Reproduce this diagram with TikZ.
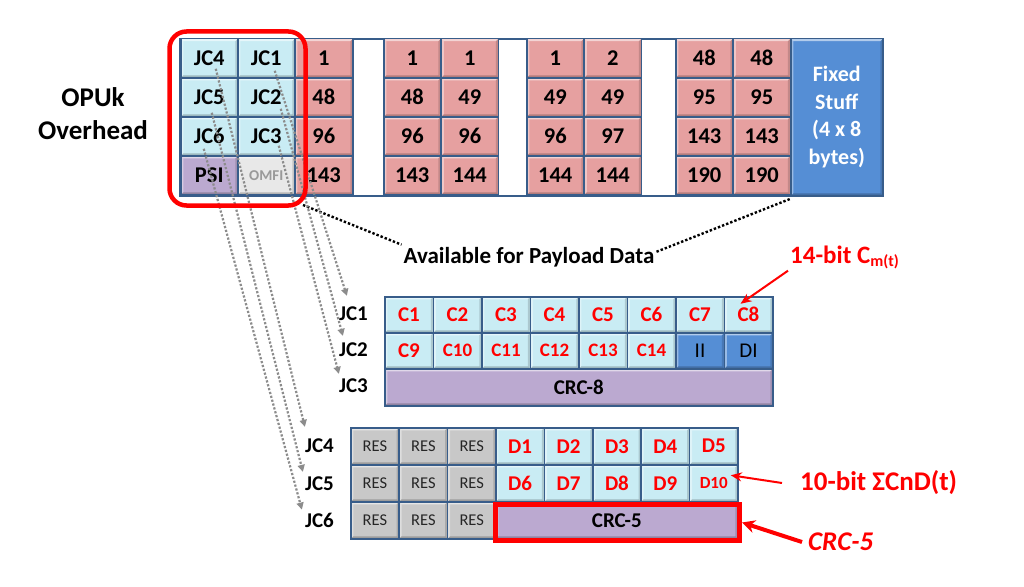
\documentclass[tikz,border=0pt]{standalone}
\usepackage{fontspec}
\setmainfont{Carlito}
\usetikzlibrary{arrows.meta,calc}
\definecolor{cy}{HTML}{C9ECF4}
\definecolor{pk}{HTML}{E6A0A0}
\definecolor{pu}{HTML}{BBA9D0}
\definecolor{bl}{HTML}{558ED5}
\definecolor{gr}{HTML}{C8C8C8}
\definecolor{om}{HTML}{E8E8E8}
\definecolor{bd}{HTML}{385D8A}
\definecolor{rd}{HTML}{FF0000}
\definecolor{dg}{HTML}{8C8C8C}
\begin{document}
\begin{tikzpicture}[x=1pt,y=-1pt,
  bevel/.style={path picture={
    \fill[white,opacity=.55] (path picture bounding box.north west) -- (path picture bounding box.north east)
      -- ([shift={(-2.5pt,-2.5pt)}]path picture bounding box.north east) -- ([shift={(2.5pt,-2.5pt)}]path picture bounding box.north west) -- cycle;
    \fill[white,opacity=.4] (path picture bounding box.north west) -- ([shift={(2.5pt,-2.5pt)}]path picture bounding box.north west)
      -- ([shift={(2.5pt,2.5pt)}]path picture bounding box.south west) -- (path picture bounding box.south west) -- cycle;
    \fill[black,opacity=.22] (path picture bounding box.south west) -- (path picture bounding box.south east)
      -- ([shift={(-2.5pt,2.5pt)}]path picture bounding box.south east) -- ([shift={(2.5pt,2.5pt)}]path picture bounding box.south west) -- cycle;
    \fill[black,opacity=.15] (path picture bounding box.north east) -- (path picture bounding box.south east)
      -- ([shift={(-2.5pt,2.5pt)}]path picture bounding box.south east) -- ([shift={(-2.5pt,-2.5pt)}]path picture bounding box.north east) -- cycle;
  }},
  cell/.style={draw=bd, line width=1.5pt, anchor=north west, inner sep=0pt, bevel,
    font=\fontsize{22.5}{26}\selectfont\bfseries},
  tcell/.style={cell, minimum width=57pt, minimum height=39pt},
  mcell/.style={cell, minimum width=48.5pt, minimum height=36pt, font=\fontsize{21}{24}\selectfont\bfseries},
  bcell/.style={cell, minimum width=48.4pt, minimum height=37pt, font=\fontsize{21}{24}\selectfont\bfseries},
  rescell/.style={bcell, fill=gr, text=black!85, font=\fontsize{16.5}{19}\selectfont},
  lbl/.style={anchor=east, inner sep=0pt, font=\fontsize{21}{24}\selectfont\bfseries},
  gar/.style={draw=dg, line width=2.2pt, dash pattern=on 2.2pt off 1.8pt, -{Triangle[length=7pt,width=7pt]}},
  kdot/.style={draw=black, line width=2.4pt, dash pattern=on 2.4pt off 2pt},
  rar/.style={draw=rd, line width=2pt, -{Stealth[length=11pt,width=9pt]}},
  ann/.style={text=rd, inner sep=2pt, font=\fontsize{25}{28}\selectfont\bfseries}
]
\useasboundingbox (0,0) rectangle (1024,586);
\fill[white] (0,0) rectangle (1024,586);

% frame of the OPUk block
\draw[bd, line width=2pt] (180,39.5) rectangle (882,195.5);

% group 1
\node[tcell, fill=cy] (t1a) at (180,38) {JC4};
\node[tcell, fill=cy] (t1b) at (237,38) {JC1};
\node[tcell, fill=pk, minimum width=58pt] (t1c) at (294,38) {1};
\node[tcell, fill=cy] (t2a) at (180,77) {JC5};
\node[tcell, fill=cy] (t2b) at (237,77) {JC2};
\node[tcell, fill=pk, minimum width=58pt] (t2c) at (294,77) {48};
\node[tcell, fill=cy] (t3a) at (180,116) {JC6};
\node[tcell, fill=cy] (t3b) at (237,116) {JC3};
\node[tcell, fill=pk, minimum width=58pt] (t3c) at (294,116) {96};
\node[tcell, fill=pu] (t4a) at (180,155) {PSI};
\node[tcell, fill=om, text=black!40, font=\fontsize{15}{17}\selectfont\bfseries] (t4b) at (237,155) {OMFI};
\node[tcell, fill=pk, minimum width=58pt] (t4c) at (294,155) {143};

% groups 2-4
\foreach \x/\g/\va/\vb/\vc/\vd/\ve/\vf/\vh/\vi in
  {383/b/1/1/48/49/96/96/143/144, 526/c/1/2/49/49/96/97/144/144, 675/d/48/48/95/95/143/143/190/190}{
  \node[tcell, fill=pk] (\g1l) at (\x,38) {\va};
  \node[tcell, fill=pk] (\g1r) at (\x+57.5,38) {\vb};
  \node[tcell, fill=pk] (\g2l) at (\x,77) {\vc};
  \node[tcell, fill=pk] (\g2r) at (\x+57.5,77) {\vd};
  \node[tcell, fill=pk] (\g3l) at (\x,116) {\ve};
  \node[tcell, fill=pk] (\g3r) at (\x+57.5,116) {\vf};
  \node[tcell, fill=pk] (\g4l) at (\x,155) {\vh};
  \node[tcell, fill=pk] (\g4r) at (\x+57.5,155) {\vi};
}
\node[cell, fill=bl, text=white, minimum width=92pt, minimum height=157pt, align=center,
  font=\fontsize{22}{27.5}\selectfont\bfseries] (fx) at (790,38) {Fixed\\Stuff\\(4 x 8\\bytes)};

\node[align=center, font=\fontsize{27}{33}\selectfont\bfseries] (opu) at (93,114) {OPUk\\Overhead};

% Available for payload data
\node[anchor=base, inner sep=2pt, font=\fontsize{23}{26}\selectfont\bfseries] (avail) at (529,263) {Available for Payload Data};
\coordinate (pl) at (303,205);
\coordinate (pr) at (790,199);
\draw[kdot] (pl) -- (avail.north west);
\draw[kdot] ([yshift=5pt]avail.east) -- (pr);

% middle grid JC1-JC3
\foreach \i in {1,...,8}{
  \node[mcell, fill=cy, text=rd] (m1\i) at ({384+(\i-1)*48.5},296) {C\i};
}
\node[mcell, fill=cy, text=rd] (m21) at (384,332) {C9};
\foreach \i/\t in {2/C10,3/C11,4/C12,5/C13,6/C14}{
  \node[mcell, fill=cy, text=rd, font=\fontsize{19}{22}\selectfont\bfseries] (m2\i) at ({384+(\i-1)*48.5},332) {\t};
}
\node[mcell, fill=bl, font=\fontsize{21}{24}\selectfont] (m27) at ({384+6*48.5},332) {II};
\node[mcell, fill=bl, font=\fontsize{21}{24}\selectfont] (m28) at ({384+7*48.5},332) {DI};
\node[mcell, fill=pu, text=black, minimum width=388pt, minimum height=37pt] (m3) at (384,368) {CRC-8};
\node[lbl] (l1) at (368,314) {JC1};
\node[lbl] (l2) at (368,350) {JC2};
\node[lbl] (l3) at (368,386) {JC3};

% bottom grid JC4-JC6
\foreach \i in {1,2,3}{
  \node[rescell] (r1\i) at ({350+(\i-1)*48.4},427) {RES};
  \node[rescell] (r2\i) at ({350+(\i-1)*48.4},464) {RES};
  \node[rescell] (r3\i) at ({350+(\i-1)*48.4},501) {RES};
}
\foreach \i/\t in {4/D1,5/D2,6/D3,7/D4,8/D5}{
  \node[bcell, fill=cy, text=rd] (r1\i) at ({350+(\i-1)*48.4},427) {\t};
}
\foreach \i/\t in {4/D6,5/D7,6/D8,7/D9}{
  \node[bcell, fill=cy, text=rd] (r2\i) at ({350+(\i-1)*48.4},464) {\t};
}
\node[bcell, fill=cy, text=rd, font=\fontsize{17}{20}\selectfont\bfseries] (r28) at ({350+7*48.4},464) {D10};
\node[bcell, fill=pu, text=black, minimum width=241.8pt] (r3c) at ({350+3*48.4},501) {CRC-5};
\node[draw=rd, line width=5pt, minimum width=244pt, minimum height=36pt, inner sep=0pt] (crcbox) at (617.5,522.5) {};
\node[lbl] (l4) at (334,446) {JC4};
\node[lbl] (l5) at (334,484) {JC5};
\node[lbl] (l6) at (334,520) {JC6};

% gray dotted arrows
\draw[gar] ($(t1b.center)+(8.5,12.5)$) -- ($(l1.north west)+(8,-11)$);
\draw[gar] ($(t2b.center)+(14.5,11.5)$) -- ($(l2.north west)+(4,-7)$);
\draw[gar] ($(t3b.center)+(12.5,9.5)$) -- ($(l3.north west)+(0,-5)$);
\draw[gar] ($(t1a.center)+(6.5,10.5)$) -- ($(l4.north west)+(0,-12)$);
\draw[gar] ($(t2a.center)+(2.5,15.5)$) -- ($(l5.north west)+(-2,-5)$);
\draw[gar] ($(t3a.center)+(-5.5,12.5)$) -- ($(l6.north west)+(-3,-3)$);

% red rounded frame
\draw[rd, line width=4.5pt, rounded corners=17pt] (169.5,31.5) rectangle (305.5,205.5);

% annotations
\node[ann, anchor=west] (ann1) at (788,257) {14-bit C\raisebox{-3pt}{\fontsize{16}{18}\selectfont m(t)}};
\draw[rar] (ann1.south west) -- ($(m18.center)+(-8,-11)$);
\node[ann, anchor=west, font=\fontsize{27}{30}\selectfont\bfseries] (ann2) at (798,483) {10-bit ΣCnD(t)};
\draw[rar] ($(ann2.west)+(-16,0)$) -- ($(r28.center)+(17,-8)$);
\node[ann, anchor=west, font=\fontsize{27}{30}\selectfont\bfseries\itshape] (ann3) at (806,542) {CRC-5};
\draw[rar, line width=4pt, -{Stealth[length=13pt,width=13pt]}] ($(ann3.west)+(-4,0)$) -- (crcbox.east);
\end{tikzpicture}
\end{document}
